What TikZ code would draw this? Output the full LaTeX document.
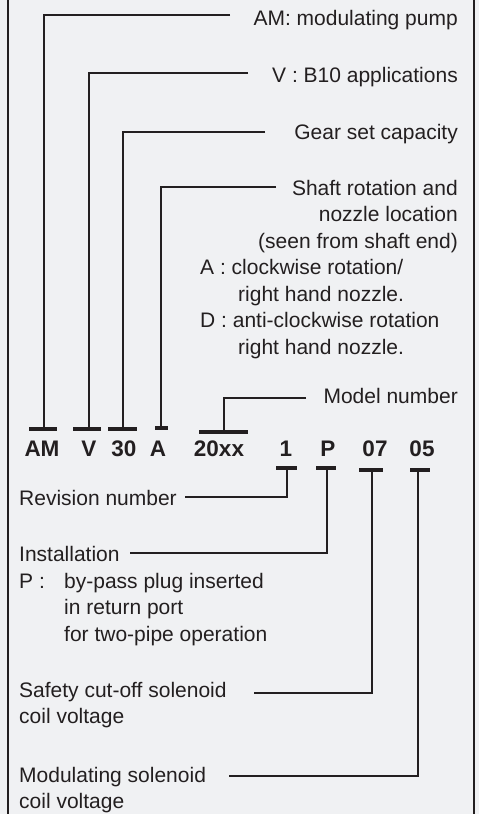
\documentclass[tikz,border=0pt]{standalone}
\usepackage{fontspec}
\setmainfont{Liberation Sans}
\definecolor{ink}{HTML}{231F20}
\definecolor{bg}{HTML}{F0F1F3}
\begin{document}
\begin{tikzpicture}[x=1pt,y=-1pt,
  txt/.style={inner sep=0pt, font=\fontsize{21}{26}\selectfont, text=ink},
  code/.style={inner sep=0pt, font=\fontsize{22.5}{26}\selectfont\bfseries, text=ink, anchor=base},
  conn/.style={draw=ink, line width=2.8pt, line join=miter},
  tbar/.style={draw=ink, line width=3.5pt},
  frame/.style={draw=ink, line width=2.2pt}]
\fill[bg] (0,0) rectangle (479,814);
\useasboundingbox (0,0) rectangle (479,814);
\draw[frame] (8,0) -- (8,814);
\draw[frame] (474,0) -- (474,814);

% upper labels
\node[txt, anchor=base east] (amlab) at (458,25) {AM: modulating pump};
\node[txt, anchor=base east] (vlab) at (458,82) {V : B10 applications};
\node[txt, anchor=base east] (gear) at (458,139) {Gear set capacity};
\node[txt, anchor=base east] (shaft1) at (458,195) {Shaft rotation and};
\node[txt, anchor=base east] (shaft2) at (458,221.5) {nozzle location};
\node[txt, anchor=base east] (shaft3) at (458,248) {(seen from shaft end)};
\node[txt, anchor=base west] (shaftA) at (200,274.5) {A : clockwise rotation/};
\node[txt, anchor=base west] (shaftA2) at (238,301) {right hand nozzle.};
\node[txt, anchor=base west] (shaftD) at (200,327.5) {D : anti-clockwise rotation};
\node[txt, anchor=base west] (shaftD2) at (238,354) {right hand nozzle.};
\node[txt, anchor=base east] (model) at (458,403) {Model number};

% code
\node[code] (cAM) at (42,456) {AM};
\node[code] (cV) at (89,456) {V};
\node[code] (c30) at (124,456) {30};
\node[code] (cA) at (158,456) {A};
\node[code] (c20) at (219,456) {20xx};
\node[code] (c1) at (286,456) {1};
\node[code] (cP) at (328,456) {P};
\node[code] (c07) at (375,456) {07};
\node[code] (c05) at (422,456) {05};

% lower labels
\node[txt, anchor=base west] (rev) at (19,505) {Revision number};
\node[txt, anchor=base west] (inst) at (19,561) {Installation};
\node[txt, anchor=base west] (instP) at (19,588) {P :};
\node[txt, anchor=base west] (inst1) at (64,588) {by-pass plug inserted};
\node[txt, anchor=base west] (inst2) at (64,614) {in return port};
\node[txt, anchor=base west] (inst3) at (64,641) {for two-pipe operation};
\node[txt, anchor=base west] (safe1) at (19,697) {Safety cut-off solenoid};
\node[txt, anchor=base west] (safe2) at (19,723) {coil voltage};
\node[txt, anchor=base west] (mod1) at (19,782) {Modulating solenoid};
\node[txt, anchor=base west] (mod2) at (19,808) {coil voltage};

% connector coordinates
\coordinate (amS) at (230,15);   \coordinate (amT) at (44,429);
\coordinate (vS) at (248,73);    \coordinate (vT) at (89,429);
\coordinate (gS) at (265,132);   \coordinate (gT) at (123,429);
\coordinate (aS) at (276,187);   \coordinate (aT) at (161,428);
\coordinate (mS) at (306,398);   \coordinate (mT) at (224,432);
\coordinate (rS) at (185,497);   \coordinate (rT) at (287,468);
\coordinate (iS) at (130,553);   \coordinate (iT) at (327,468);
\coordinate (sS) at (254,693);   \coordinate (sT) at (372,470);
\coordinate (oS) at (229,776);   \coordinate (oT) at (418,470);

\draw[conn] (amS) -| (amT);
\draw[conn] (vS) -| (vT);
\draw[conn] (gS) -| (gT);
\draw[conn] (aS) -| (aT);
\draw[conn] (mS) -| (mT);
\draw[conn] (rS) -| (rT);
\draw[conn] (iS) -| (iT);
\draw[conn] (sS) -| (sT);
\draw[conn] (oS) -| (oT);

% T bars
\draw[tbar] ([xshift=-15pt]amT) -- ([xshift=13pt]amT);
\draw[tbar] ([xshift=-16pt]vT) -- ([xshift=12pt]vT);
\draw[tbar] ([xshift=-15pt]gT) -- ([xshift=14pt]gT);
\draw[tbar] ([xshift=-6pt]aT) -- ([xshift=7pt]aT);
\draw[tbar] ([xshift=-25pt]mT) -- ([xshift=24pt]mT);
\draw[tbar] ([xshift=-11pt]rT) -- ([xshift=10pt]rT);
\draw[tbar] ([xshift=-11pt]iT) -- ([xshift=9pt]iT);
\draw[tbar] ([xshift=-13pt]sT) -- ([xshift=11pt]sT);
\draw[tbar] ([xshift=-8pt]oT) -- ([xshift=12pt]oT);
\end{tikzpicture}
\end{document}
